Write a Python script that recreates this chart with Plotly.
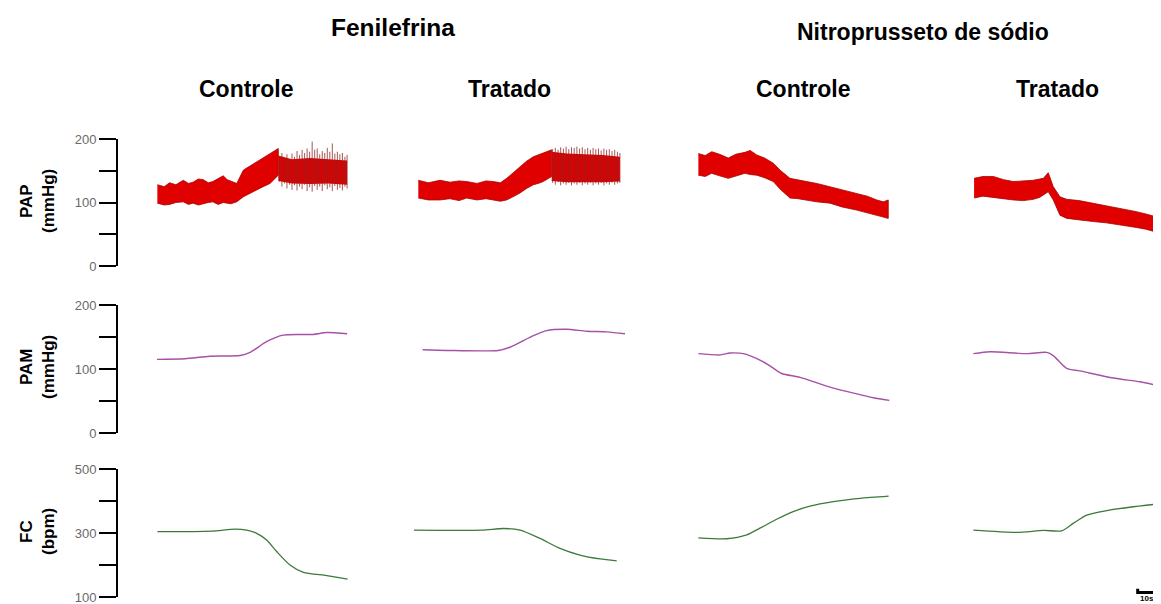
import plotly.graph_objects as go

# ---------------- data (time in s) ----------------
col_titles = ["Controle", "Tratado", "Controle", "Tratado"]
group_titles = ["Fenilefrina", "Nitroprusseto de sódio"]
row_titles = [("PAP", "(mmHg)"), ("PAM", "(mmHg)"), ("FC", "(bpm)")]
pap_ticks = [0, 50, 100, 150, 200]
pap_ticktext = ["0", "", "100", "", "200"]
fc_ticks = [100, 200, 300, 400, 500]
fc_ticktext = ["100", "", "300", "", "500"]

# PAP dense envelope (upper / lower) per panel
pap1_t = [0.2, 4.0, 7.0, 10.5, 14.6, 17.5, 20.0, 23.0, 25.7, 28.5, 31.0, 34.0, 36.8, 39.0, 41.0, 44.3, 48.0, 51.5, 55.4, 59.0, 62.8, 65.5, 67.4]
pap1_hi = [128, 125, 131, 128, 135, 130, 132, 137, 136, 131, 133, 138, 142, 136, 134, 130, 151, 157, 164, 170, 177, 181, 185]
pap1_lo = [99, 96, 97, 100, 101, 97, 99, 96, 98, 100, 101, 97, 100, 99, 98, 101, 109, 114, 120, 125, 130, 137, 143]
pap2_t = [2.4, 8.0, 14.4, 20.0, 25.0, 29.3, 35.0, 40.0, 44.1, 48.0, 51.5, 55.0, 58.9, 62.5, 66.3, 69.0, 71.8, 74.0, 76.5]
pap2_hi = [135, 131, 135, 132, 134, 133, 130, 134, 133, 131, 138, 147, 156, 165, 172, 175, 178, 181, 183]
pap2_lo = [107, 104, 104, 106, 103, 107, 104, 106, 104, 102, 104, 109, 115, 122, 128, 130, 133, 137, 141]
pap3_t = [0.2, 4.0, 7.6, 12.0, 16.8, 21.0, 26.1, 29.0, 32.6, 37.0, 41.8, 46.0, 51.1, 55.5, 60.4, 66.0, 73.3, 80.0, 88.2, 94.0, 99.3, 103.0, 105.7]
pap3_hi = [177, 174, 180, 176, 170, 176, 179, 182, 175, 170, 162, 150, 138, 136, 133, 130, 125, 120, 115, 110, 104, 101, 104]
pap3_lo = [143, 141, 146, 142, 138, 142, 146, 144, 143, 139, 133, 120, 107, 106, 104, 101, 99, 93, 88, 84, 80, 77, 75]
pap4_t = [0.6, 5.5, 11.3, 17.0, 22.4, 28.0, 33.5, 37.0, 39.1, 41.8, 44.6, 48.3, 52.1, 59.0, 66.8, 74.0, 81.7, 90.0, 96.0, 101.1]
pap4_hi = [138, 141, 141, 136, 133, 134, 135, 137, 138, 147, 125, 109, 105, 103, 99, 95, 91, 86, 82, 78]
pap4_lo = [107, 110, 109, 106, 104, 103, 105, 108, 112, 117, 104, 80, 75, 73, 70, 68, 65, 61, 58, 54]

# PAP individual beats (visible after phenylephrine)
beats1_t = [68.0, 69.4, 70.8, 72.2, 73.6, 75.0, 76.4, 77.8, 79.2, 80.6, 82.0, 83.4, 84.8, 86.2,
            87.6, 89.0, 90.4, 91.8, 93.2, 94.6, 96.0, 97.4, 98.8, 100.2, 101.6, 103.0, 104.4, 105.6]
beats1_sys = [172, 178, 170, 176, 168, 177, 172, 181, 175, 183, 178, 185, 180, 196,
              183, 185, 176, 181, 178, 186, 180, 193, 177, 180, 176, 178, 172, 175]
beats1_dia = [133, 125, 130, 122, 128, 120, 127, 119, 125, 121, 128, 118, 124, 117,
              126, 120, 125, 118, 127, 121, 124, 118, 126, 120, 123, 119, 125, 122]
beats2_t = [77.0, 78.5, 80.0, 81.5, 83.0, 84.5, 86.0, 87.5, 89.0, 90.5, 92.0, 93.5, 95.0,
            96.5, 98.0, 99.5, 101.0, 102.5, 104.0, 105.5, 107.0, 108.5, 110.0, 111.5, 113.0, 114.4]
beats2_sys = [184, 186, 183, 187, 185, 188, 184, 187, 186, 188, 185, 187, 184,
              186, 183, 186, 184, 185, 182, 185, 183, 184, 181, 183, 180, 178]
beats2_dia = [131, 128, 132, 127, 130, 128, 131, 127, 130, 128, 131, 127, 130,
              128, 131, 127, 130, 128, 131, 127, 130, 128, 131, 128, 130, 131]
# red body between beats
body1_t = [67.4, 75.0, 85.0, 95.0, 105.6]
body1_hi = [174, 168, 170, 168, 166]
body1_lo = [134, 130, 129, 130, 128]
body2_t = [76.5, 85.0, 95.0, 105.0, 114.4]
body2_hi = [180, 177, 176, 175, 172]
body2_lo = [134, 132, 132, 132, 133]

# PAM
pam1_t = [0, 15.6, 29.4, 46.1, 51.7, 61.1, 70, 86.7, 94.4, 105.6]
pam1 = [115, 116, 120, 121, 126, 143, 153, 154, 157, 155]
pam2_t = [4.8, 18.2, 46.8, 53.3, 66.3, 73.7, 84.8, 95.9, 107.1, 117.2]
pam2 = [130, 129, 129, 134, 152, 160, 162, 159, 158, 155]
pam3_t = [0.2, 12.2, 17.8, 25.2, 34.4, 40, 46.5, 56.7, 75.2, 90, 97.4, 106.3]
pam3 = [124, 122, 125, 124, 114, 105, 93, 87, 70, 60, 55, 51]
pam4_t = [0.2, 9.4, 29.8, 40.9, 44.6, 52, 59.4, 77.9, 92.8, 101.5]
pam4 = [124, 127, 124, 126, 121, 101, 97, 86, 80, 75]

# FC
fc1_t = [0.2, 30.4, 43.3, 49.8, 55.4, 60.9, 66.5, 73.9, 81.3, 94.3, 105.9]
fc1 = [304, 306, 312, 309, 299, 278, 242, 200, 177, 167, 156]
fc2_t = [0, 37.6, 49.6, 58.9, 70, 81.1, 92.2, 103.3, 112.6]
fc2 = [309, 309, 314, 309, 283, 252, 231, 219, 213]
fc3_t = [0.2, 15.9, 27.1, 34.4, 43.7, 52.9, 62.2, 75.2, 90, 105.9]
fc3 = [285, 282, 294, 315, 343, 367, 384, 398, 408, 415]
fc4_t = [0.2, 24.3, 39.1, 49.3, 55.7, 63.2, 74.3, 89.1, 101.5]
fc4 = [309, 302, 308, 307, 330, 356, 370, 382, 390]

# time scale bar (10 s)
bar_t = [91.5, 91.5, 101.5, 101.5]
bar_v = [126, 114, 114, 126]
bar_label = "10s"

# ---------------- layout constants (pixels, in the 1161x604 window) ----------------
WIN_W, WIN_H = 1161, 604
OFF = 8                       # page body margin
W, H = WIN_W - OFF, WIN_H - OFF
PX_PER_S = 1.8
col_x0 = [157, 414, 698, 973]
col_span = [108, 120, 108, 104]
yaxis_x = 117


def px2x(px):
    return (px - OFF) / W


def py2y(py):
    return 1 - (py - OFF) / H


RED = "#e00000"
RED_EDGE = "#a80000"
BEAT = "#8b2323"
PURPLE = "#a650a6"
GREEN = "#3b7a3b"

fig = go.Figure()
xa = ["x", "x2", "x3", "x4"]


def band(t, hi, lo, xaxis, edge_w=0.8):
    fig.add_trace(go.Scatter(x=t + t[::-1], y=hi + lo[::-1], xaxis=xaxis, yaxis="y",
                             mode="lines", fill="toself", fillcolor=RED,
                             line=dict(color=RED_EDGE, width=edge_w), hoverinfo="skip"))


pap_sets = [(pap1_t, pap1_hi, pap1_lo), (pap2_t, pap2_hi, pap2_lo),
            (pap3_t, pap3_hi, pap3_lo), (pap4_t, pap4_hi, pap4_lo)]
for i, (t, hi, lo) in enumerate(pap_sets):
    band(t, hi, lo, xa[i])

for i, (bt, bs, bd, bodt, bodh, bodl) in [
        (0, (beats1_t, beats1_sys, beats1_dia, body1_t, body1_hi, body1_lo)),
        (1, (beats2_t, beats2_sys, beats2_dia, body2_t, body2_hi, body2_lo))]:
    band(bodt, bodh, bodl, xa[i], edge_w=0)
    xs, ys = [], []
    for k in range(len(bt)):
        xs += [bt[k], bt[k], None]
        ys += [bd[k], bs[k], None]
    fig.add_trace(go.Scatter(x=xs, y=ys, xaxis=xa[i], yaxis="y", mode="lines",
                             line=dict(color=BEAT, width=0.9), opacity=0.85,
                             hoverinfo="skip"))

pam_sets = [(pam1_t, pam1), (pam2_t, pam2), (pam3_t, pam3), (pam4_t, pam4)]
for i, (t, v) in enumerate(pam_sets):
    fig.add_trace(go.Scatter(x=t, y=v, xaxis=xa[i], yaxis="y2", mode="lines",
                             line=dict(color=PURPLE, width=1.4, shape="spline", smoothing=0.7),
                             hoverinfo="skip"))

fc_sets = [(fc1_t, fc1), (fc2_t, fc2), (fc3_t, fc3), (fc4_t, fc4)]
for i, (t, v) in enumerate(fc_sets):
    fig.add_trace(go.Scatter(x=t, y=v, xaxis=xa[i], yaxis="y3", mode="lines",
                             line=dict(color=GREEN, width=1.3, shape="spline", smoothing=0.7),
                             hoverinfo="skip"))

fig.add_trace(go.Scatter(x=bar_t, y=bar_v, xaxis="x4", yaxis="y3", mode="lines",
                         line=dict(color="black", width=3), hoverinfo="skip"))

layout = dict(template="none", width=W, height=H,
              margin=dict(l=0, r=0, t=0, b=0, pad=0, autoexpand=False),
              paper_bgcolor="white", plot_bgcolor="white", showlegend=False,
              font=dict(family="Liberation Sans, Arial, sans-serif", color="black"))

for i in range(4):
    name = "xaxis" if i == 0 else f"xaxis{i+1}"
    x0 = col_x0[i]
    x1 = x0 + col_span[i] * PX_PER_S
    layout[name] = dict(domain=[px2x(x0), min(px2x(x1), 1.0)], range=[0, col_span[i]],
                        visible=False, fixedrange=True, automargin=False)


def ydom(top_px, bot_px):
    return [py2y(bot_px), py2y(top_px)]


yax_common = dict(anchor="free", position=px2x(yaxis_x), showline=True, linecolor="black",
                  linewidth=2, ticks="outside", ticklen=17, tickwidth=2, tickcolor="black",
                  showgrid=False, zeroline=False, fixedrange=True, automargin=False,
                  ticklabeloverflow="allow",
                  tickfont=dict(size=13, color="#6a6a6a"))
layout["yaxis"] = dict(domain=ydom(139, 266), range=[0, 200], tickvals=pap_ticks,
                       ticktext=pap_ticktext, **yax_common)
layout["yaxis2"] = dict(domain=ydom(305, 433), range=[0, 200], tickvals=pap_ticks,
                        ticktext=pap_ticktext, **yax_common)
layout["yaxis3"] = dict(domain=ydom(469, 597), range=[100, 500], tickvals=fc_ticks,
                        ticktext=fc_ticktext, **yax_common)

ann = []


def add_text(text, px, py, size, bold=True, angle=0):
    ann.append(dict(text=f"<b>{text}</b>" if bold else text, x=px2x(px), y=py2y(py),
                    xref="paper", yref="paper", showarrow=False, xanchor="center",
                    yanchor="middle", textangle=angle,
                    font=dict(size=size, color="black")))


add_text(group_titles[0], 393, 27, 24.5)
add_text(group_titles[1], 923, 32, 23)
for txt, px in zip(col_titles, [246, 509, 803, 1057]):
    add_text(txt, px, 89, 23)

row_centers = [201, 367, 532]
for (a, b), cy in zip(row_titles, row_centers):
    add_text(a, 26, cy, 17, bold=True, angle=-90)
    add_text(b, 48, cy, 17, bold=True, angle=-90)

add_text(bar_label, 1147, 598, 8)
layout["annotations"] = ann

fig.update_layout(**layout)
fig.write_html("out.html")
